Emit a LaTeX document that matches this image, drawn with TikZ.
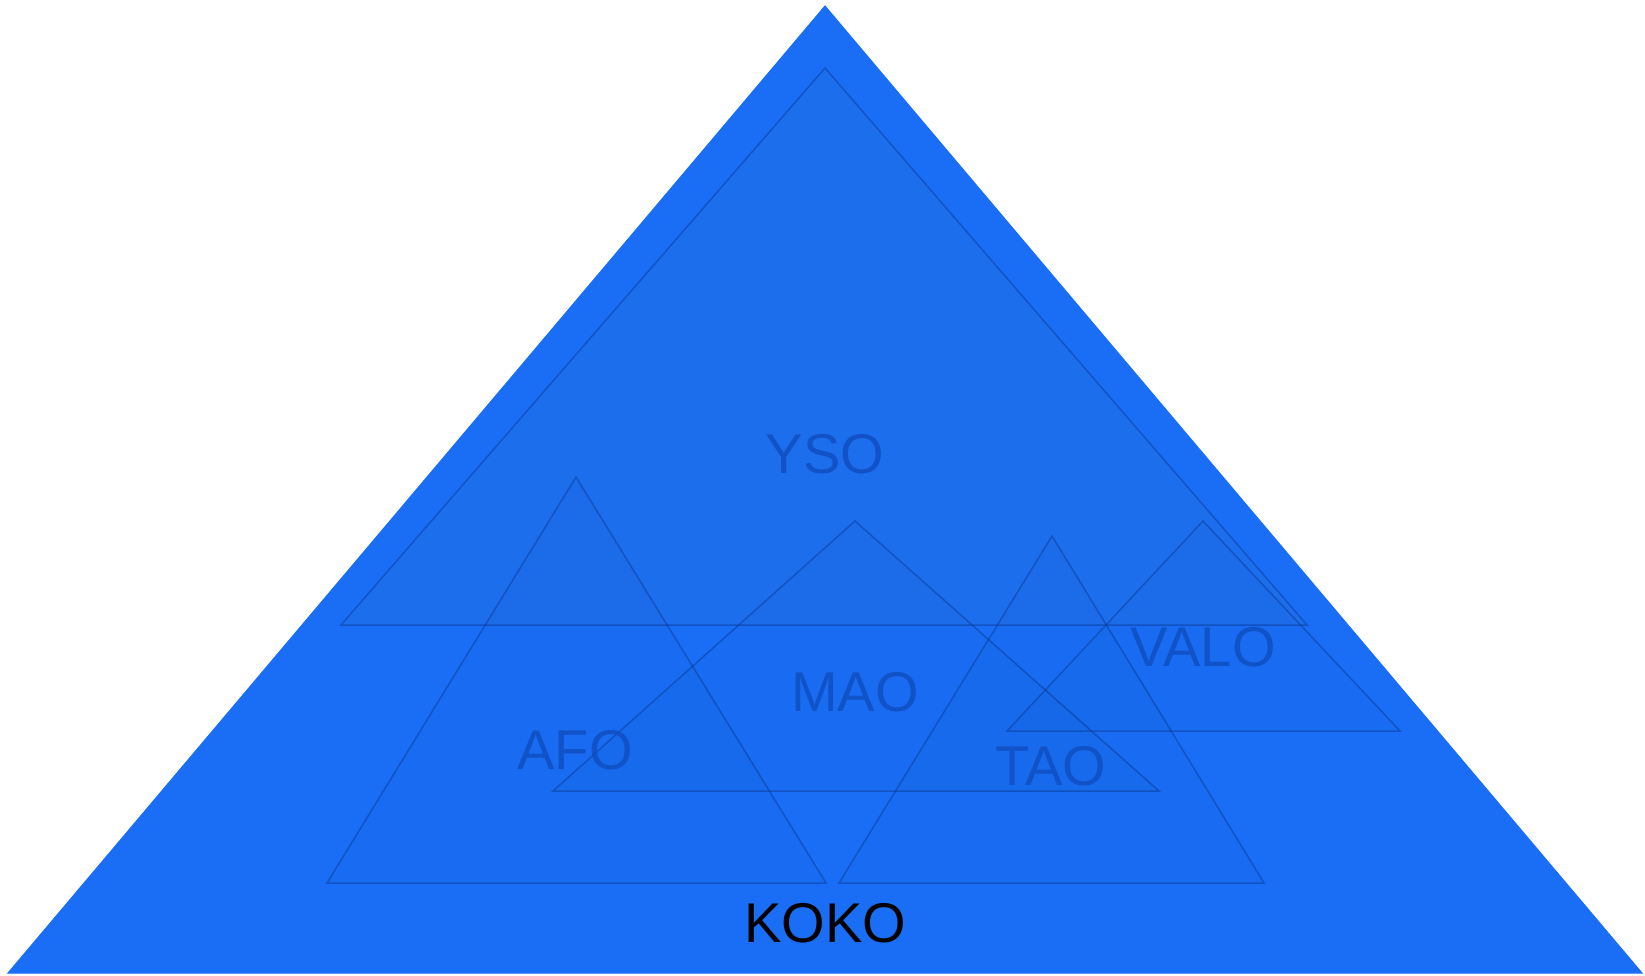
\documentclass[tikz,border=0pt]{standalone}
\usepackage{fontspec}
\setmainfont{Liberation Sans}
\usepackage{tikz}
\usetikzlibrary{positioning}
\definecolor{kokoblue}{RGB}{26,110,245}
\definecolor{linkblue}{RGB}{12,62,160}
\definecolor{textblue}{RGB}{14,76,190}
\definecolor{ysotint}{RGB}{90,110,110}

\begin{document}
\begin{tikzpicture}[x=1pt,y=-1pt,main tri/.style={fill=kokoblue,draw=kokoblue,line width=1pt},sub tri/.style={draw=linkblue,draw opacity=0.55,fill=black,fill opacity=0.015,line width=1.5pt},tri label/.style={text=textblue,text opacity=0.8,font=\fontsize{56}{60}\selectfont,inner sep=0pt}]
    \useasboundingbox (0,0) rectangle (1645,976);

		\coordinate (koko1) at (825,6);
		\coordinate (koko2) at (8,973);
		\coordinate (koko3) at (1642,973);
		\coordinate (yso1) at (825,68);
		\coordinate (yso2) at (341,625);
		\coordinate (yso3) at (1307,625);
		\coordinate (afo1) at (576,477);
		\coordinate (afo2) at (327,883);
		\coordinate (afo3) at (826,883);
		\coordinate (mao1) at (855,521);
		\coordinate (mao2) at (553,791);
		\coordinate (mao3) at (1159,791);
		\coordinate (tao1) at (1052,536);
		\coordinate (tao2) at (839,883);
		\coordinate (tao3) at (1264,883);
		\coordinate (valo1) at (1203,521);
		\coordinate (valo2) at (1007,731);
		\coordinate (valo3) at (1400,731);

		\path[main tri] (koko1) -- (koko2) -- (koko3) -- cycle;
		\path[sub tri,fill=ysotint,fill opacity=0.06] (yso1) -- (yso2) -- (yso3) -- cycle;
		\path[sub tri] (afo1) -- (afo2) -- (afo3) -- cycle;
		\path[sub tri] (mao1) -- (mao2) -- (mao3) -- cycle;
		\path[sub tri] (tao1) -- (tao2) -- (tao3) -- cycle;
		\path[sub tri] (valo1) -- (valo2) -- (valo3) -- cycle;

		\node[tri label](yso) at (825,454){YSO};
		\node[tri label](afo) at (575,750){AFO};
		\node[tri label](mao) at (855,692){MAO};
		\node[tri label](tao) at (1051,766){TAO};
		\node[tri label](valo) at (1203,647){VALO};
		\node[tri label,text=black,text opacity=1](koko) at (825,923){KOKO};

	\end{tikzpicture}
\end{document}
